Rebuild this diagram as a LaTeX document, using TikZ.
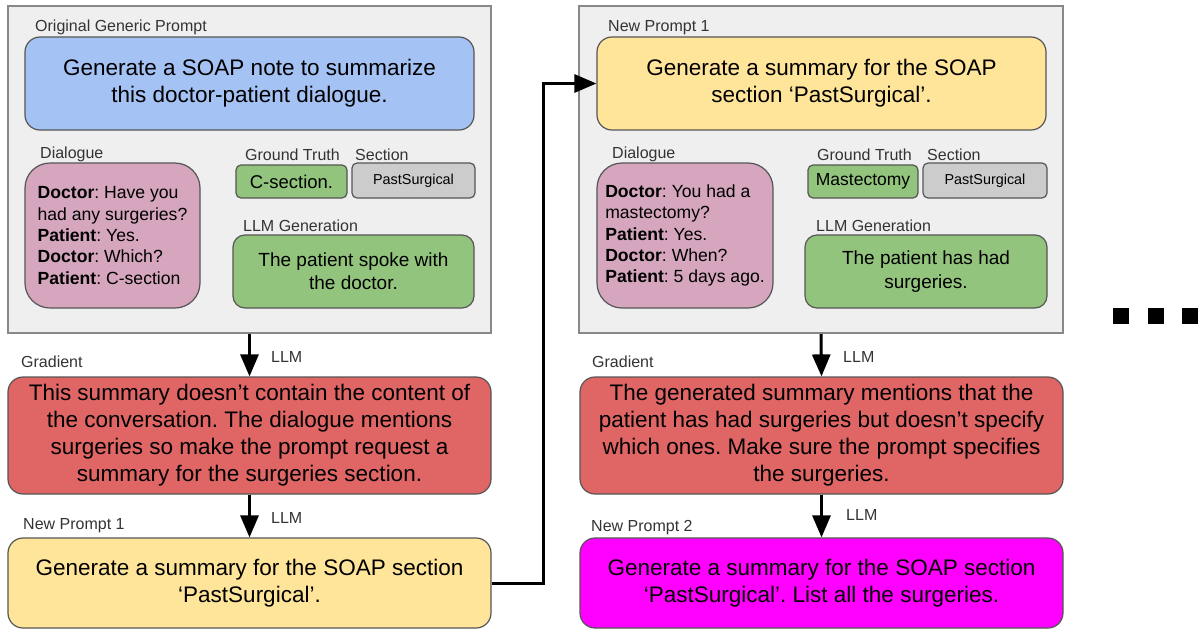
\documentclass[tikz,border=0pt]{standalone}
\usepackage{fontspec}
\setmainfont{Liberation Sans}
\usetikzlibrary{arrows.meta}
\frenchspacing

\definecolor{panelfill}{RGB}{239,239,239}
\definecolor{panelline}{RGB}{136,136,136}
\definecolor{boxline}{RGB}{85,85,85}
\definecolor{promptblue}{RGB}{164,194,244}
\definecolor{dialpink}{RGB}{213,166,189}
\definecolor{truegreen}{RGB}{147,196,125}
\definecolor{sectgray}{RGB}{204,204,204}
\definecolor{promptyellow}{RGB}{255,229,153}
\definecolor{gradred}{RGB}{224,102,102}
\definecolor{promptpink}{RGB}{255,0,255}
\definecolor{labeltext}{RGB}{51,51,51}

\newcommand{\bigtxt}{\fontsize{22.5}{27}\selectfont}
\newcommand{\dialtxt}{\fontsize{17.6}{21.3}\selectfont}
\newcommand{\gentxt}{\fontsize{19}{23.3}\selectfont}
\newcommand{\lbltxt}{\fontsize{16}{19}\selectfont}

\begin{document}
\begin{tikzpicture}[x=1pt,y=1pt,yscale=-1,
  panel/.style={draw=panelline,fill=panelfill,line width=2pt,inner sep=0pt},
  box/.style={draw=boxline,line width=1.2pt,inner sep=0pt,align=center,text=black},
  lbl/.style={anchor=base west,inner sep=0pt,text=labeltext,font=\lbltxt},
  flow/.style={line width=3pt,-{Triangle[length=22pt,width=18pt]}}]
\useasboundingbox (0,0) rectangle (1198,630);

%Shape: Rectangle [first round]
\node (panA) [panel,minimum width=483pt,minimum height=327pt] at (249.5,169.5) {};
%Shape: Rectangle [second round]
\node (panB) [panel,minimum width=484pt,minimum height=327pt] at (821,169.5) {};

%Shape: Rounded Rectangle [generic prompt]
\node (origA) [box,fill=promptblue,rounded corners=15pt,minimum width=449pt,minimum height=93pt,font=\bigtxt] at (249.5,83.5) {Generate a SOAP note to summarize\\this doctor-patient dialogue.};
%Shape: Rounded Rectangle [dialogue 1]
\node (dialA) [box,fill=dialpink,rounded corners=25pt,minimum width=175pt,minimum height=145pt,align=left,font=\dialtxt] at (112.5,235.5) {\textbf{Doctor}: Have you\\had any surgeries?\\\textbf{Patient}: Yes.\\\textbf{Doctor}: Which?\\\textbf{Patient}: C-section};
%Shape: Rounded Rectangle [ground truth 1]
\node (truthA) [box,fill=truegreen,rounded corners=5pt,minimum width=111pt,minimum height=33pt,font=\fontsize{18.5}{22}\selectfont] at (291.5,181.5) {C-section.};
%Shape: Rounded Rectangle [section 1]
\node (sectA) [box,fill=sectgray,rounded corners=5pt,minimum width=123pt,minimum height=35pt,font=\fontsize{14.4}{17}\selectfont] at (413.5,180.5) {PastSurgical};
%Shape: Rounded Rectangle [generation 1]
\node (genA) [box,fill=truegreen,rounded corners=12pt,minimum width=241pt,minimum height=73pt,font=\gentxt] at (353.5,271.5) {The patient spoke with\\the doctor.};

%Shape: Rounded Rectangle [new prompt 1, top]
\node (newB) [box,fill=promptyellow,rounded corners=15pt,minimum width=449pt,minimum height=93pt,font=\bigtxt] at (821.5,83.5) {Generate a summary for the SOAP\\section ‘PastSurgical’.};
%Shape: Rounded Rectangle [dialogue 2]
\node (dialB) [box,fill=dialpink,rounded corners=25pt,minimum width=176pt,minimum height=145pt,align=left,font=\dialtxt] at (685,235.5) {\textbf{Doctor}: You had a\\mastectomy?\\\textbf{Patient}: Yes.\\\textbf{Doctor}: When?\\\textbf{Patient}: 5 days ago.};
%Shape: Rounded Rectangle [ground truth 2]
\node (truthB) [box,fill=truegreen,rounded corners=5pt,minimum width=110pt,minimum height=33pt,font=\fontsize{17.5}{21}\selectfont] at (863,181.5) {Mastectomy};
%Shape: Rounded Rectangle [section 2]
\node (sectB) [box,fill=sectgray,rounded corners=5pt,minimum width=124pt,minimum height=35pt,font=\fontsize{14.4}{17}\selectfont] at (985,180.5) {PastSurgical};
%Shape: Rounded Rectangle [generation 2]
\node (genB) [box,fill=truegreen,rounded corners=12pt,minimum width=242pt,minimum height=73pt,font=\gentxt] at (926,271.5) {The patient has had\\surgeries.};

%Shape: Rounded Rectangle [gradient 1]
\node (gradA) [box,fill=gradred,rounded corners=15pt,minimum width=483pt,minimum height=117pt,font=\bigtxt] at (249.5,435.5) {This summary doesn’t contain the content of\\the conversation. The dialogue mentions\\surgeries so make the prompt request a\\summary for the surgeries section.};
%Shape: Rounded Rectangle [new prompt 1, bottom]
\node (newA) [box,fill=promptyellow,rounded corners=15pt,minimum width=483pt,minimum height=90pt,font=\bigtxt] at (249.5,583) {Generate a summary for the SOAP section\\‘PastSurgical’.};
%Shape: Rounded Rectangle [gradient 2]
\node (gradB) [box,fill=gradred,rounded corners=15pt,minimum width=483pt,minimum height=117pt,font=\bigtxt] at (821.5,435.5) {The generated summary mentions that the\\patient has had surgeries but doesn’t specify\\which ones. Make sure the prompt specifies\\the surgeries.};
%Shape: Rounded Rectangle [new prompt 2]
\node (newC) [box,fill=promptpink,rounded corners=15pt,minimum width=483pt,minimum height=90pt,font=\bigtxt] at (821.5,583) {Generate a summary for the SOAP section\\‘PastSurgical’. List all the surgeries.};

%Straight Lines [arrows]
\draw [flow] (panA.south) -- (gradA.north);
\draw [flow] (gradA.south) -- (newA.north);
\draw [flow] (panB.south) -- (gradB.north);
\draw [flow] (gradB.south) -- (newC.north);
\draw [flow] (newA.east) -- ++(52,0) |- (newB.west);

% Text Node
\node (tOrig) [lbl] at (35,31) {Original Generic Prompt};
\node (tDialA) [lbl] at (40,158) {Dialogue};
\node (tTruthA) [lbl] at (245,160) {Ground Truth};
\node (tSectA) [lbl] at (355,160) {Section};
\node (tGenA) [lbl] at (243,231) {LLM Generation};
% Text Node
\node (tNewB) [lbl] at (608,31) {New Prompt 1};
\node (tDialB) [lbl] at (612,158) {Dialogue};
\node (tTruthB) [lbl] at (817,160) {Ground Truth};
\node (tSectB) [lbl] at (927,160) {Section};
\node (tGenB) [lbl] at (816,231) {LLM Generation};
% Text Node
\node (tGradA) [lbl] at (21,367) {Gradient};
\node (tLlmA) [lbl] at (271,362) {LLM};
\node (tNewA) [lbl] at (23,529) {New Prompt 1};
\node (tLlmA2) [lbl] at (271,523) {LLM};
\node (tGradB) [lbl] at (592,367) {Gradient};
\node (tLlmB) [lbl] at (843,362) {LLM};
\node (tNewC) [lbl] at (591,531) {New Prompt 2};
\node (tLlmB2) [lbl] at (846,520) {LLM};

%Shape: Squares [more rounds]
\foreach \dx in {1113,1148,1182}
  \fill (\dx,308) rectangle ++(16,16);

\end{tikzpicture}
\end{document}
